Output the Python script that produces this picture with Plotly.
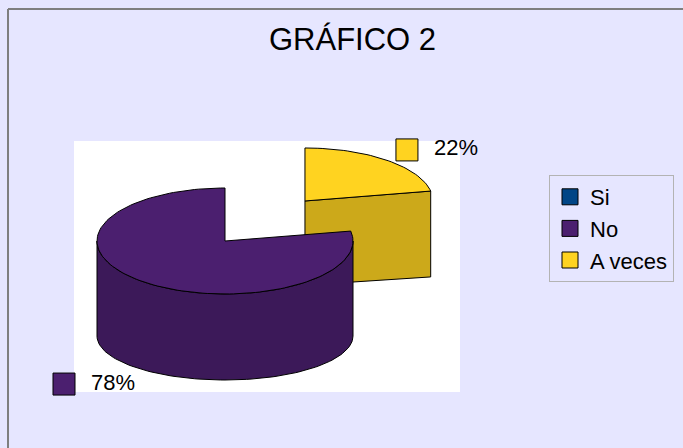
import math
import plotly.graph_objects as go

# ---- data ----
categories = ["Si", "No", "A veces"]
values = [0, 78, 22]
label_texts = ["0%", "78%", "22%"]
title_text = "GRÁFICO 2"

# ---- style ----
top_colors = ["#004586", "#4B1F6F", "#FFD320"]
side_colors = ["#00376B", "#3C1959", "#CCA91A"]
pull = [0.0, 0.0, 0.98]
W, H = 683, 448
CX, CY = 225, 241          # pie centre (pixels)
RX, RY_TOP, RY_BOT = 128, 53, 44
DEPTH0, DEPTH_K = 95, 0.27
FONT = "Liberation Sans, Arial, sans-serif"

def depth(cy):
    return DEPTH0 + DEPTH_K * (cy - CY)

def top_pt(cx, cy, a):
    r = math.radians(a)
    return cx + RX * math.cos(r), cy - RY_TOP * math.sin(r)

def bot_pt(cx, cy, a):
    r = math.radians(a)
    return cx + RX * math.cos(r), cy + depth(cy) - RY_BOT * math.sin(r)

def arc(fn, cx, cy, a0, a1):
    pts = []
    steps = max(2, int(abs(a1 - a0) / 2) + 2)
    for i in range(steps + 1):
        a = a0 + (a1 - a0) * i / steps
        pts.append(fn(cx, cy, a))
    return pts

total = sum(values)
slices = []
ang = 90.0
for i, v in enumerate(values):
    span = 360.0 * v / total
    a0, a1 = ang, ang + span
    ang = a1
    if v <= 0:
        continue
    mid = math.radians((a0 + a1) / 2)
    cx = CX + pull[i] * RX * math.cos(mid)
    cy = CY - pull[i] * RY_TOP * math.sin(mid)
    slices.append(dict(i=i, a0=a0, a1=a1, mid=mid, cx=cx, cy=cy))

fig = go.Figure()

def poly(pts, color):
    xs = [p[0] for p in pts] + [pts[0][0]]
    ys = [p[1] for p in pts] + [pts[0][1]]
    fig.add_trace(go.Scatter(x=xs, y=ys, mode="lines", fill="toself",
                             fillcolor=color, line=dict(color="black", width=1),
                             hoverinfo="skip", showlegend=False))

# painter's order: slices further back (smaller cy) first
for s in sorted(slices, key=lambda s: s["cy"]):
    i, a0, a1, cx, cy = s["i"], s["a0"], s["a1"], s["cx"], s["cy"]
    apex_t = (cx, cy)
    apex_b = (cx, cy + depth(cy))
    if math.cos(math.radians(a0)) > 1e-6:
        poly([apex_t, top_pt(cx, cy, a0), bot_pt(cx, cy, a0), apex_b], side_colors[i])
    if math.cos(math.radians(a1)) < -1e-6:
        poly([apex_t, top_pt(cx, cy, a1), bot_pt(cx, cy, a1), apex_b], side_colors[i])
    for k in (-360, 0, 360):
        f0, f1 = max(a0, 180 + k), min(a1, 360 + k)
        if f1 > f0:
            pts = arc(top_pt, cx, cy, f0, f1) + arc(bot_pt, cx, cy, f1, f0)
            poly(pts, side_colors[i])
    poly([apex_t] + arc(top_pt, cx, cy, a0, a1), top_colors[i])

# percentage labels (key square + text), placed from each slice's mid angle
for s in slices:
    i, mid, cx, cy = s["i"], s["mid"], s["cx"], s["cy"]
    lx = cx + RX * 1.25 * math.cos(mid)
    ly = cy - RY_TOP * 1.25 * math.sin(mid)
    if math.sin(mid) < 0:
        ly += depth(cy) - 3
    if math.cos(mid) < 0:
        lx -= 59
    fig.add_trace(go.Scatter(x=[lx], y=[ly], mode="markers",
                             marker=dict(symbol="square", size=22, color=top_colors[i],
                                         line=dict(color="black", width=1)),
                             hoverinfo="skip", showlegend=False))
    fig.add_trace(go.Scatter(x=[lx + 27], y=[ly], mode="text", text=[label_texts[i]],
                             textposition="middle right",
                             textfont=dict(family=FONT, size=22, color="black"),
                             hoverinfo="skip", showlegend=False))

# legend entries
for c, col in zip(categories, top_colors):
    fig.add_trace(go.Scatter(x=[None], y=[None], mode="markers", name=c,
                             marker=dict(symbol="square", size=16, color=col,
                                         line=dict(color="black", width=1))))

fig.add_annotation(x=352, y=39, xref="x", yref="y", text=title_text, showarrow=False,
                   font=dict(family=FONT, size=31, color="black"), yanchor="middle")

fig.update_layout(
    width=W, height=H, margin=dict(l=0, r=0, t=0, b=0),
    paper_bgcolor="#E6E6FF", plot_bgcolor="#E6E6FF",
    xaxis=dict(range=[0, W], visible=False, fixedrange=True),
    yaxis=dict(range=[H, 0], visible=False, fixedrange=True),
    showlegend=True,
    legend=dict(x=549 / W, y=1 - 175 / H, xanchor="left", yanchor="top",
                font=dict(family=FONT, size=22, color="black"),
                bgcolor="#E6E6FF", bordercolor="#B3B3B3", borderwidth=1),
    shapes=[
        dict(type="rect", xref="x", yref="y", x0=74, y0=141, x1=460, y1=392,
             fillcolor="white", line=dict(width=0), layer="below"),
        dict(type="line", xref="x", yref="y", x0=8, y0=9, x1=W, y1=9,
             line=dict(color="#7F7F7F", width=2)),
        dict(type="line", xref="x", yref="y", x0=8, y0=9, x1=8, y1=H,
             line=dict(color="#7F7F7F", width=2)),
    ],
)

fig.write_html("out.html", config={"displayModeBar": False},
               post_script="document.body.style.margin='0';"
                           "document.body.style.overflow='hidden';")
